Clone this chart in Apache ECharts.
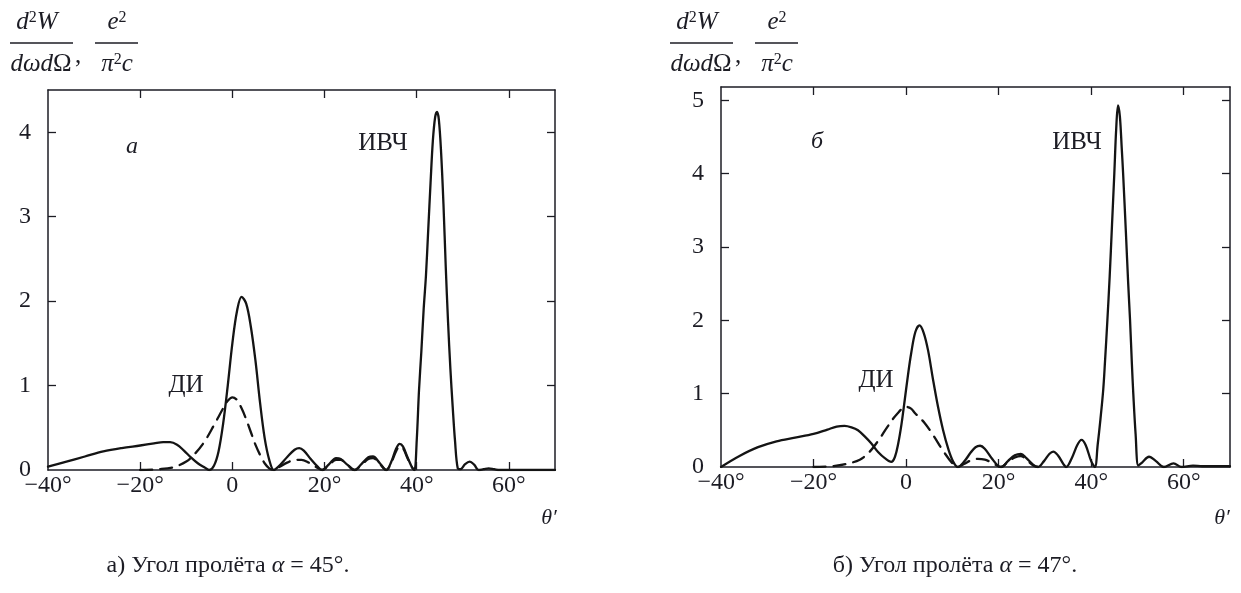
<!DOCTYPE html>
<html>
<head>
<meta charset="utf-8">
<script src="https://cdn.jsdelivr.net/npm/echarts@6/dist/echarts.min.js"></script>
<style>
html,body{margin:0;padding:0;background:#fff;}
#chart{width:1241px;height:593px;}
</style>
</head>
<body>
<div id="chart"></div>
<script>
// ---- data (theta' in degrees, d2W/dωdΩ in units of e^2/(π^2 c)) ----
const xTickValues = [-40, -20, 0, 20, 40, 60];
const xTickLabels = ['\u221240°', '\u221220°', '0', '20°', '40°', '60°'];

// panel a (α = 45°): solid = total, dashed = ДИ
const solidA = [
  [-40,0.04],[-36,0.1],[-32,0.16],[-28,0.22],[-24,0.26],[-20,0.29],[-17,0.315],[-15,0.33],[-13.5,0.33],[-12,0.3],[-10.5,0.23],[-9,0.15],[-7.5,0.08],[-6,0.03],[-5,0],
  [-4,0.05],[-3,0.22],[-2,0.55],[-1,1.0],[0,1.5],[1,1.88],[2,2.05],[3,1.97],[4,1.7],[5,1.3],[6,0.8],[7,0.38],[8,0.12],[9,0],
  [10,0.04],[12,0.16],[13.5,0.24],[14.5,0.26],[15.5,0.23],[17,0.13],[18.5,0.04],[19.5,0],
  [21,0.07],[22.5,0.14],[23.5,0.13],[25,0.06],[26.5,0],
  [28,0.07],[29.5,0.15],[30.5,0.16],[32,0.08],[33.4,0],
  [34.5,0.1],[35.5,0.25],[36.3,0.31],[37,0.28],[38,0.15],[39,0.03],[39.5,0],
  [40,0.35],[40.5,0.95],[41,1.4],[41.5,1.9],[42,2.3],[42.5,2.85],[43,3.4],[43.5,3.9],[44,4.18],[44.4,4.24],[44.8,4.15],[45.3,3.75],[45.8,3.15],[46.3,2.4],[46.8,1.75],[47.3,1.2],[47.8,0.75],[48.3,0.35],[48.9,0.02],
  [49.5,0.01],[50.5,0.07],[51.5,0.1],[52.5,0.06],[53.4,0],[54.5,0.01],[55.6,0.02],[56.8,0.01],[58,0],[64,0],[70,0]
];
const dashedA = [
  [-20,0],[-16,0.01],[-13,0.03],[-10,0.1],[-8,0.2],[-6,0.34],[-4,0.53],[-2,0.73],[-1,0.82],[0,0.86],[1,0.83],[2,0.73],[3,0.6],[4,0.45],[5,0.3],[6,0.18],[7,0.08],[8,0.02],[9,0],
  [10,0.03],[12,0.09],[13.5,0.12],[15,0.12],[16.5,0.09],[18,0.04],[19.5,0],
  [21,0.06],[22.5,0.12],[23.5,0.12],[25,0.06],[26.5,0],
  [28,0.06],[29.5,0.13],[30.5,0.14],[32,0.07],[33.4,0],
  [34.5,0.09],[35.5,0.22],[36.3,0.28],[37,0.26],[38,0.14],[39,0.03],[39.5,0]
];

// panel б (α = 47°)
const solidB = [
  [-40,0],[-36,0.15],[-32,0.27],[-28,0.35],[-24,0.4],[-20,0.45],[-17,0.51],[-15,0.55],[-13.3,0.56],[-11.8,0.54],[-10.4,0.5],[-9,0.42],[-7.5,0.32],[-6,0.2],[-4.6,0.12],[-3.2,0.07],
  [-2.4,0.14],[-1.7,0.32],[-1,0.58],[-0.3,0.91],[0.4,1.25],[1.1,1.55],[2,1.84],[2.9,1.93],[3.8,1.83],[4.75,1.59],[5.8,1.2],[6.9,0.82],[8,0.5],[9.1,0.25],[10.2,0.07],[11.2,0],
  [12.5,0.07],[14,0.2],[15,0.27],[16,0.29],[17,0.25],[18.5,0.12],[19.8,0.02],[20.6,0],
  [22,0.08],[23.5,0.16],[24.8,0.18],[26,0.12],[27.5,0.03],[28.5,0],
  [29.8,0.08],[31,0.18],[31.8,0.21],[32.8,0.16],[34,0.04],[34.6,0],
  [35.8,0.12],[37,0.3],[37.9,0.37],[38.8,0.3],[40,0.08],[40.8,0],
  [41.4,0.3],[42,0.65],[42.6,1.05],[43,1.45],[43.5,2.0],[44,2.6],[44.5,3.3],[45,4.0],[45.4,4.6],[45.8,4.93],[46.2,4.78],[46.6,4.35],[46.9,4.0],[47.5,3.2],[48,2.5],[48.4,2.0],[48.8,1.4],[49.1,1.0],[49.6,0.45],[50.2,0.02],
  [51,0.06],[52.5,0.14],[54,0.08],[55.7,0],[57.8,0.05],[59.5,0],[62,0.02],[64,0.01],[67,0.01],[70,0.01]
];
const dashedB = [
  [-20,0],[-16,0.01],[-13,0.04],[-10,0.1],[-8,0.2],[-6,0.36],[-4,0.55],[-2,0.72],[0,0.82],[1,0.8],[2,0.73],[4,0.6],[6,0.42],[8,0.22],[10,0.05],[11,0],
  [12.5,0.04],[14,0.09],[15.5,0.11],[17,0.1],[18.5,0.06],[20.5,0],
  [22,0.07],[23.5,0.13],[24.8,0.15],[26,0.1],[27.5,0.02],[28.5,0]
];

// ---- chart ----
const FONT = '"Liberation Serif", "DejaVu Serif", serif';
const INK = '#1c1c24';
const chart = echarts.init(document.getElementById('chart'), null, {renderer: 'canvas'});

function xAx(grid, pos, labels) {
  return {
    type: 'value', gridIndex: grid, position: pos, min: -40, max: 70, interval: 20,
    axisLine: {show: true, onZero: false, lineStyle: {color: INK, width: 1.5}},
    axisTick: {show: true, inside: true, length: 8, lineStyle: {color: INK, width: 1.3},
      customValues: [-20, 0, 20, 40, 60]},
    axisLabel: {show: labels, margin: 4, fontFamily: FONT, fontSize: 24, color: INK,
      customValues: xTickValues,
      formatter: v => { const i = xTickValues.indexOf(v); return i >= 0 ? xTickLabels[i] : ''; }},
    splitLine: {show: false}
  };
}
function yAx(grid, pos, max, labels, top) {
  const vals = [];
  for (let v = 1; v <= top; v++) vals.push(v);
  return {
    type: 'value', gridIndex: grid, position: pos, min: 0, max: max, interval: 1,
    axisLine: {show: true, onZero: false, lineStyle: {color: INK, width: 1.5}},
    axisTick: {show: true, inside: true, length: 8, lineStyle: {color: INK, width: 1.3}, customValues: vals},
    axisLabel: {show: labels, margin: 17, fontFamily: FONT, fontSize: 24, color: INK,
      customValues: [0].concat(vals), formatter: v => String(v)},
    splitLine: {show: false}
  };
}
function line(data, xi, yi, dashed) {
  return {
    type: 'line', data: data, xAxisIndex: xi, yAxisIndex: yi, smooth: 0.35,
    showSymbol: false, symbol: 'none', clip: true, silent: true,
    lineStyle: {color: '#141414', width: 2.3, type: dashed ? [12, 8] : 'solid', cap: 'round', join: 'round'}
  };
}

function fraction(ox) {
  const it = {fontFamily: FONT, fontSize: 25, fontStyle: 'italic', fill: INK};
  const up = {fontFamily: FONT, fontSize: 25, fill: INK};
  const sup = {fontFamily: FONT, fontSize: 16, fill: INK, verticalAlign: 'top', lineHeight: 14};
  const base = {align: 'center', verticalAlign: 'middle'};
  return [
    {type: 'text', x: ox + 37, y: 22, style: Object.assign({}, base, {text: '{i|d}{s|2}{i|W}', rich: {i: it, s: sup}})},
    {type: 'line', shape: {x1: ox + 10, y1: 43, x2: ox + 73, y2: 43}, style: {stroke: INK, lineWidth: 1.4}},
    {type: 'text', x: ox + 41, y: 64, style: Object.assign({}, base, {text: '{i|dωd}{u|Ω}', rich: {i: it, u: up}})},
    {type: 'text', x: ox + 78, y: 56, style: Object.assign({}, base, {text: '{u|,}', rich: {u: up}})},
    {type: 'text', x: ox + 117, y: 22, style: Object.assign({}, base, {text: '{i|e}{s|2}', rich: {i: it, s: sup}})},
    {type: 'line', shape: {x1: ox + 95, y1: 43, x2: ox + 138, y2: 43}, style: {stroke: INK, lineWidth: 1.4}},
    {type: 'text', x: ox + 117, y: 64, style: Object.assign({}, base, {text: '{i|π}{s|2}{i|c}', rich: {i: it, s: sup}})}
  ];
}
function label(x, y, text, italic, size) {
  return {type: 'text', x: x, y: y, style: {text: text, fontFamily: FONT, fontSize: size || 24,
    fontStyle: italic ? 'italic' : 'normal', fill: INK, align: 'center', verticalAlign: 'middle'}};
}
function caption(x, y, prefix, angle) {
  return {type: 'text', x: x, y: y, style: {
    text: '{n|' + prefix + ') Угол пролёта }{i|α}{n| = ' + angle + '°.}',
    align: 'center', verticalAlign: 'middle',
    rich: {n: {fontFamily: FONT, fontSize: 24, fill: INK}, i: {fontFamily: FONT, fontSize: 24, fontStyle: 'italic', fill: INK}}
  }};
}

const option = {
  backgroundColor: '#ffffff',
  animation: false,
  grid: [
    {left: 48, top: 90, width: 507, height: 380},
    {left: 721, top: 87, width: 509, height: 380}
  ],
  xAxis: [xAx(0, 'bottom', true), xAx(0, 'top', false), xAx(1, 'bottom', true), xAx(1, 'top', false)],
  yAxis: [yAx(0, 'left', 4.5, true, 4), yAx(0, 'right', 4.5, false, 4), yAx(1, 'left', 5.18, true, 5), yAx(1, 'right', 5.18, false, 5)],
  series: [
    line(solidA, 0, 0, false),
    line(dashedA, 0, 0, true),
    line(solidB, 2, 2, false),
    line(dashedB, 2, 2, true)
  ],
  graphic: [].concat(
    fraction(0), fraction(660),
    [
      label(132, 147, 'а', true, 24), label(383, 143, 'ИВЧ', false, 25), label(186, 385, 'ДИ', false, 25),
      label(817, 142, 'б', true, 24), label(1077, 142, 'ИВЧ', false, 25), label(876, 380, 'ДИ', false, 25),
      label(549, 518, 'θ′', true, 22), label(1222, 518, 'θ′', true, 22),
      caption(228, 566, 'а', 45), caption(955, 566, 'б', 47)
    ]
  )
};
chart.setOption(option);
</script>
</body>
</html>
